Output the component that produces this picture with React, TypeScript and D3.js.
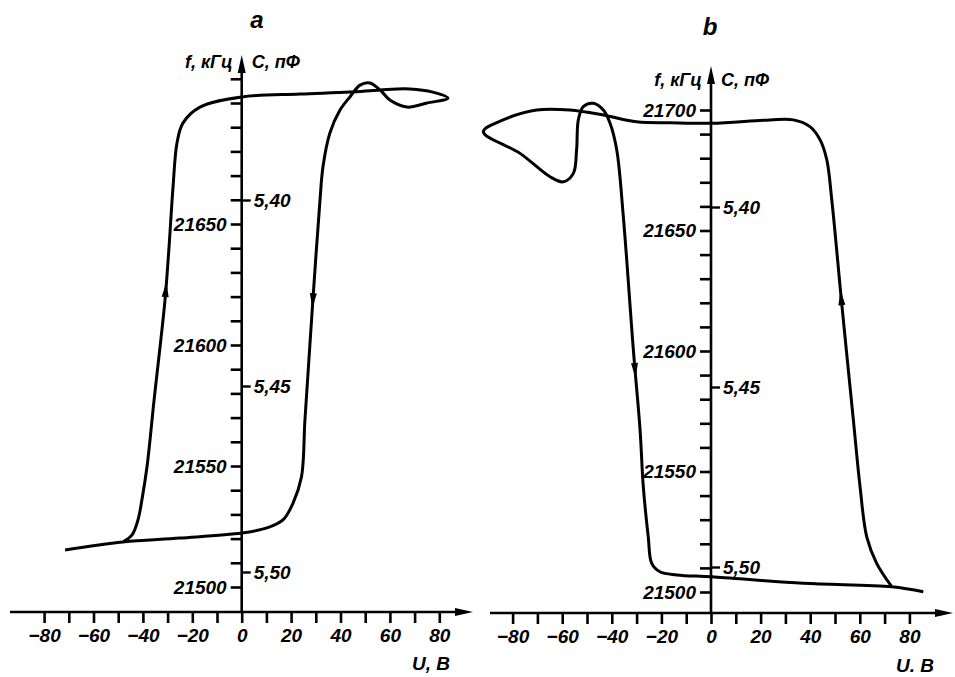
import React, { useRef, useEffect } from 'react';
import * as d3 from 'd3';

// panel a: loop of f (kHz) against U (V), points in drawing order
const uA = [-71.5, -48.1, -25.0, 0, 10.2, 16.7, 20.8, 24.2, 25.6, 27.2, 28.9, 31.7, 32.9, 35.7, 39.8, 43.8, 47.9, 51.9, 56.0, 60.0, 66.9, 75.0, 83.5, 77.4, 68.1, 56.0, 43.8, 23.6, 0, -16.9, -23.8, -26.2, -27.8, -29.5, -31.1, -35.5, -38.3, -40.4, -42.0, -44.4, -48.1];
const fA = [21515.3, 21518.6, 21520.2, 21522.3, 21524.4, 21527.7, 21534.7, 21545.5, 21569, 21593.8, 21619.8, 21659.9, 21673.6, 21687.6, 21697.1, 21702.5, 21707.4, 21708.3, 21705.4, 21701.2, 21698.3, 21700, 21702, 21704.5, 21705.8, 21705.4, 21704.5, 21703.7, 21702.5, 21698.3, 21691.7, 21683.5, 21665.3, 21639.3, 21618, 21577, 21550, 21536, 21527.7, 21521.5, 21518.6];

// panel b
const uB = [85.6, 72.9, 37.2, 0.3, -13.8, -20.6, -23.9, -25.3, -27.3, -28.6, -31.3, -35.4, -38.0, -40.7, -43.4, -47.5, -51.5, -53.5, -54.2, -55.5, -59.6, -64.9, -77.0, -91.8, -83.8, -70.3, -56.9, -43.4, -30.0, -16.5, 0.3, 23.8, 33.2, 39.9, 44.0, 46.7, 48.7, 52.7, 57.4, 60.1, 62.8, 66.8, 72.9];
const fB = [21500.1, 21502.2, 21503.6, 21506.3, 21507.1, 21508.4, 21511.9, 21522.9, 21543.7, 21567.2, 21600.4, 21656.4, 21683.4, 21694.5, 21700, 21702.8, 21701.4, 21695.9, 21683.4, 21673.7, 21670.2, 21672.3, 21682, 21691, 21695.9, 21700, 21700, 21697.9, 21695.1, 21694.7, 21694.5, 21695.9, 21695.9, 21693.1, 21687.6, 21679.3, 21662.7, 21619.8, 21571.4, 21543.7, 21522.9, 21511.9, 21502.2];

// direction arrows: segment index and fraction along it (drawn against path order)
const arrowsA = [{ seg: 33, t: 0.78 }, { seg: 9, t: 0.95 }];
const arrowsB = [{ seg: 9, t: 0.75 }, { seg: 36, t: 0.95 }];

const uTicks = d3.range(-80, 81, 10);
const fTicksA = d3.range(21500, 21711, 10);
const fTicksB = d3.range(21500, 21701, 10);
const cTicks = [5.40, 5.45, 5.50];

const FONT = '"Liberation Sans", Arial, sans-serif';

const drawPanel = (svg, p) => {
  const x = d3.scaleLinear().domain([-80, 80]).range(p.xRange);
  const y = d3.scaleLinear().domain([21500, 21700]).range(p.yRange);
  const c = d3.scaleLinear().domain([5.40, 5.50]).range(p.cRange);
  const x0 = x(0);
  const ay = p.axisY;

  const g = svg.append('g');

  // x axis with arrow
  g.append('line').attr('x1', p.xAxisFrom).attr('x2', p.xAxisTo - 10)
    .attr('y1', ay).attr('y2', ay).attr('stroke', '#000').attr('stroke-width', 2.6);
  g.append('path')
    .attr('d', `M${p.xAxisTo},${ay} L${p.xAxisTo - 18},${ay - 4} L${p.xAxisTo - 18},${ay + 4} Z`)
    .attr('fill', '#000');

  const xa = g.append('g').attr('transform', `translate(0,${ay})`)
    .call(d3.axisBottom(x).tickValues(uTicks).tickSize(11).tickPadding(6)
      .tickFormat(d => (d % 20 === 0 ? (d < 0 ? '\u2212' + Math.abs(d) : String(d)) : '')));
  xa.select('.domain').remove();
  xa.selectAll('line').attr('stroke-width', 2.6);
  xa.selectAll('text').attr('font-family', FONT).attr('font-size', 19)
    .attr('font-style', 'italic').attr('font-weight', 'bold').attr('fill', '#000');

  // vertical axis with arrow
  g.append('line').attr('x1', x0).attr('x2', x0).attr('y1', ay).attr('y2', p.yAxisTop + 10)
    .attr('stroke', '#000').attr('stroke-width', 2.6);
  g.append('path')
    .attr('d', `M${x0},${p.yAxisTop} L${x0 - 4},${p.yAxisTop + 18} L${x0 + 4},${p.yAxisTop + 18} Z`)
    .attr('fill', '#000');

  const ya = g.append('g').attr('transform', `translate(${x0},0)`)
    .call(d3.axisLeft(y).tickValues(p.fTicks).tickSize(11).tickPadding(4)
      .tickFormat(d => (d % 50 === 0 && d < 21700 ? String(d) : (d === 21700 && p.label21700 ? '21700' : ''))));
  ya.select('.domain').remove();
  ya.selectAll('line').attr('stroke-width', 2.6);
  ya.selectAll('text').attr('font-family', FONT).attr('font-size', 19)
    .attr('font-style', 'italic').attr('font-weight', 'bold').attr('fill', '#000')
    .attr('stroke', '#fff').attr('stroke-width', 5).attr('paint-order', 'stroke');

  const ca = g.append('g').attr('transform', `translate(${x0},0)`)
    .call(d3.axisRight(c).tickValues(cTicks).tickSize(9).tickPadding(3)
      .tickFormat(d => d.toFixed(2).replace('.', ',')));
  ca.select('.domain').remove();
  ca.selectAll('line').attr('stroke-width', 2.4);
  ca.selectAll('text').attr('font-family', FONT).attr('font-size', 19)
    .attr('font-style', 'italic').attr('font-weight', 'bold').attr('fill', '#000');

  // loop
  const pts = p.u.map((u, i) => [x(u), y(p.f[i])]);
  const line = d3.line().curve(d3.curveCatmullRom.alpha(0.5));
  g.append('path').attr('d', line(pts)).attr('fill', 'none')
    .attr('stroke', '#000').attr('stroke-width', 3).attr('stroke-linejoin', 'round');

  p.arrows.forEach(a => {
    const p1 = pts[a.seg], p2 = pts[a.seg + 1];
    const px = p1[0] + (p2[0] - p1[0]) * a.t;
    const py = p1[1] + (p2[1] - p1[1]) * a.t;
    const ang = Math.atan2(p1[1] - p2[1], p1[0] - p2[0]) * 180 / Math.PI;
    g.append('path')
      .attr('d', 'M8,0 L-7,-3.5 L-7,3.5 Z')
      .attr('transform', `translate(${px},${py}) rotate(${ang})`)
      .attr('fill', '#000');
  });

  // labels
  const txt = (tx, ty, s, anchor, size = 19) => g.append('text')
    .attr('x', tx).attr('y', ty).attr('text-anchor', anchor)
    .attr('font-family', FONT).attr('font-size', size)
    .attr('font-style', 'italic').attr('font-weight', 'bold').text(s);
  txt(x0 - 9, p.unitY, 'f, кГц', 'end', 18);
  txt(x0 + 10, p.unitY, 'C, пФ', 'start', 18);
  txt(p.uLabelX, p.uLabelY, p.uLabel, 'end', 19);
  txt(p.titleX, p.titleY, p.title, 'middle', 24);
};

const App = () => {
  const ref = useRef(null);

  useEffect(() => {
    if (!ref.current) return;
    d3.select(ref.current).select('svg').remove();
    const svg = d3.select(ref.current).append('svg')
      .attr('width', 955).attr('height', 677)
      .style('position', 'absolute').style('left', 0).style('top', 0)
      .style('background', '#fff');

    drawPanel(svg, {
      u: uA, f: fA, arrows: arrowsA, fTicks: fTicksA, label21700: false,
      xRange: [44.1, 439.3], yRange: [587, 103], cRange: [200, 572],
      axisY: 612, xAxisFrom: 10, xAxisTo: 473, yAxisTop: 55,
      unitY: 68, uLabel: 'U, В', uLabelX: 450, uLabelY: 670,
      title: 'a', titleX: 257, titleY: 28,
    });
    drawPanel(svg, {
      u: uB, f: fB, arrows: arrowsB, fTicks: fTicksB, label21700: true,
      xRange: [512.6, 909.4], yRange: [592, 110], cRange: [207, 567],
      axisY: 613, xAxisFrom: 490, xAxisTo: 953, yAxisTop: 66,
      unitY: 86, uLabel: 'U. В', uLabelX: 934, uLabelY: 672,
      title: 'b', titleX: 710, titleY: 35,
    });
  }, []);

  return <div className="chart-container" ref={ref}></div>;
};

export default App;
